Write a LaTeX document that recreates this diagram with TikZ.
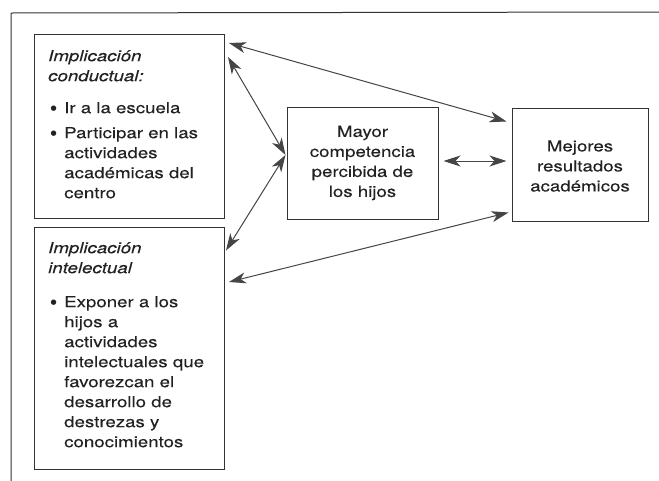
\documentclass[tikz,border=0pt]{standalone}
\usepackage{fontspec}
\setmainfont{TeX Gyre Heros}[FakeStretch=1.22,FakeBold=0.12]
\newfontfamily\dejavu{DejaVu Sans}
\usetikzlibrary{arrows.meta}
\definecolor{ink}{HTML}{222222}
\definecolor{linecol}{HTML}{333333}
\definecolor{arrowcol}{HTML}{454545}
\newcommand{\bul}{\hangindent=16pt\hangafter=1\noindent\makebox[16pt][l]{\hspace{2.5pt}\raisebox{3.2pt}{\dejavu\fontsize{7}{7}\selectfont ●}}}
\tikzset{
  box/.style={draw=linecol, line width=1pt, inner sep=0pt, fill=white},
  txt/.style={inner sep=0pt, anchor=north west, text=ink},
  ctxt/.style={inner sep=0pt, align=center, text=ink},
  link/.style={draw=arrowcol, line width=1pt,
    arrows={Stealth[length=17pt,width=11pt,inset=5pt,fill=arrowcol]-Stealth[length=17pt,width=11pt,inset=5pt,fill=arrowcol]}},
  frame/.style={draw=linecol, line width=1pt}
}
\begin{document}
\begin{tikzpicture}[x=1pt,y=-1pt,font=\fontsize{15.3}{20}\selectfont]
\useasboundingbox (0,0) rectangle (659,480);
\clip (0,0) rectangle (659,480);
\fill[white] (0,0) rectangle (659,480);
\draw[frame] (11,490) -- (11,13) -- (670,12);

% boxes
\node[box, anchor=north west, minimum width=190pt, minimum height=184pt] (A) at (34,34) {};
\node[box, anchor=north west, minimum width=190pt, minimum height=242.5pt] (B) at (34,226.5) {};
\node[box, minimum width=151pt, minimum height=112pt] (M) at (362.5,163) {};
\node[box, minimum width=136pt, minimum height=113pt] (R) at (580,164.5) {};

% texts
\node[txt] (At) at (48,34) {\parbox[t]{200pt}{\rule{0pt}{27pt}\textit{Implicación}\\
\textit{conductual:}\par\vspace{12pt}
\bul Ir a la escuela\par\vspace{5pt}
\bul Participar en las\\actividades\\académicas del\\centro}};

\node[txt] (Bt) at (48,226.5) {\parbox[t]{200pt}{\rule{0pt}{26.5pt}\textit{Implicación}\\
\textit{intelectual}\par\vspace{14pt}
\bul Exponer a los\\hijos a\\actividades\\intelectuales que\\favorezcan el\\desarrollo de\\destrezas y\\conocimientos}};

\node[ctxt] (Mt) at (M.center) {Mayor\\competencia\\percibida de\\los hijos};
\node[ctxt] (Rt) at ([yshift=-1.5pt]R.center) {Mejores\\resultados\\académicos};

% connectors
\draw[link] ([xshift=4pt,yshift=-9pt]A.north east) -- ([xshift=-5pt,yshift=-14pt]R.north west);
\draw[link] ([xshift=3pt,yshift=-23pt]A.north east) -- ([xshift=-1pt,yshift=8pt]M.west);
\draw[link] ([xshift=-1pt,yshift=8pt]M.west) -- ([xshift=1pt,yshift=-24pt]B.north east);
\draw[link] ([xshift=5pt,yshift=2pt]M.east) -- ([xshift=-5pt,yshift=3.5pt]R.west);
\draw[link] ([xshift=-3pt,yshift=9pt]R.south west) -- ([xshift=4pt,yshift=-55.5pt]B.north east);
\end{tikzpicture}
\end{document}
